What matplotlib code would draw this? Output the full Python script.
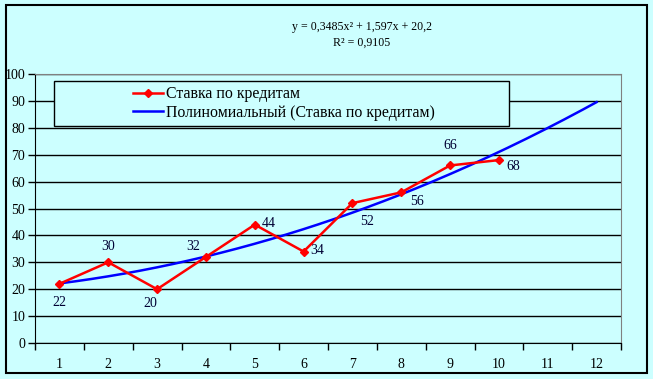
import numpy as np
import matplotlib
matplotlib.use('Agg')
import matplotlib.pyplot as plt
from matplotlib.patches import Rectangle

# data
periods = [1, 2, 3, 4, 5, 6, 7, 8, 9, 10]
rates = [22, 30, 20, 32, 44, 34, 52, 56, 66, 68]
x_labels = [str(i) for i in range(1, 13)]
series_name = 'Ставка по кредитам'
trend_name = 'Полиномиальный (Ставка по кредитам)'
eq_text = 'y = 0,3485x² + 1,597x + 20,2'
r2_text = 'R² = 0,9105'

# label offsets in points (style only)
label_offsets = [(0, -13.7), (0, 11.5), (-5, -10), (-9.4, 7.2), (10, 0.7),
                 (10, 0.7), (10.8, -13), (11.5, -6.5), (0, 14.4), (10, -4.3)]

plt.rcParams['font.family'] = ['Liberation Serif', 'DejaVu Serif']
bg = '#CCFFFF'

fig = plt.figure(figsize=(6.53, 3.79), dpi=100, facecolor=bg)
W, H = 653, 379
ax = fig.add_axes([35 / W, 1 - 343 / H, (621 - 35) / W, (343 - 74) / H])
ax.set_facecolor(bg)

# trendline from polynomial fit
coef = np.polyfit(periods, rates, 2)
xt = np.linspace(1, 12, 200)
ax.plot(xt, np.polyval(coef, xt), color='#0000FF', lw=1.8, zorder=3,
        label=trend_name)
ax.plot(periods, rates, color='#FF0000', lw=1.8, marker='D', ms=4.5,
        zorder=4, label=series_name)

for xv, yv, off in zip(periods, rates, label_offsets):
    ax.annotate(str(yv), (xv, yv), xytext=off, textcoords='offset points',
                ha='center', va='center', fontsize=10, color='#000033')

ax.set_xlim(0.5, 12.5)
ax.set_ylim(0, 100)
ax.set_yticks(range(0, 101, 10))
ax.set_xticks(range(1, 13))
ax.set_xticklabels(x_labels)
ax.set_xticks(np.arange(0.5, 12.6, 1), minor=True)
ax.tick_params(axis='x', which='major', length=0, pad=11, labelsize=10)
ax.tick_params(axis='x', which='minor', length=5, width=1, direction='out')
ax.tick_params(axis='y', length=5, width=1, direction='out', labelsize=10,
               pad=2)
ax.grid(axis='y', color='black', lw=1)
ax.set_axisbelow(True)
for s in ['left', 'bottom']:
    ax.spines[s].set_color('black')
for s in ['top', 'right']:
    ax.spines[s].set_color('#808080')

# legend box
fig.patches.append(Rectangle((54 / W, 1 - 126 / H), (509 - 54) / W, 45 / H,
                             transform=fig.transFigure, facecolor=bg,
                             edgecolor='black', lw=1, zorder=5))
handles, labels = ax.get_legend_handles_labels()
leg = fig.legend(handles[::-1], labels[::-1], loc='center',
                 bbox_to_anchor=(284 / W, 1 - 103.5 / H), frameon=False,
                 fontsize=11.4, handlelength=1.9, handletextpad=0.15,
                 borderpad=0, labelspacing=0.15)
leg.set_zorder(6)

fig.text(362 / W, 1 - 27 / H, eq_text, ha='center', va='center', fontsize=8.6)
fig.text(362 / W, 1 - 43 / H, r2_text, ha='center', va='center', fontsize=8.6)

fig.patches.append(Rectangle((6 / W, 1 - 373 / H), 641 / W, 368 / H,
                             transform=fig.transFigure, fill=False,
                             edgecolor='black', lw=1.5))

fig.savefig('out.png', dpi=100, facecolor=bg)
